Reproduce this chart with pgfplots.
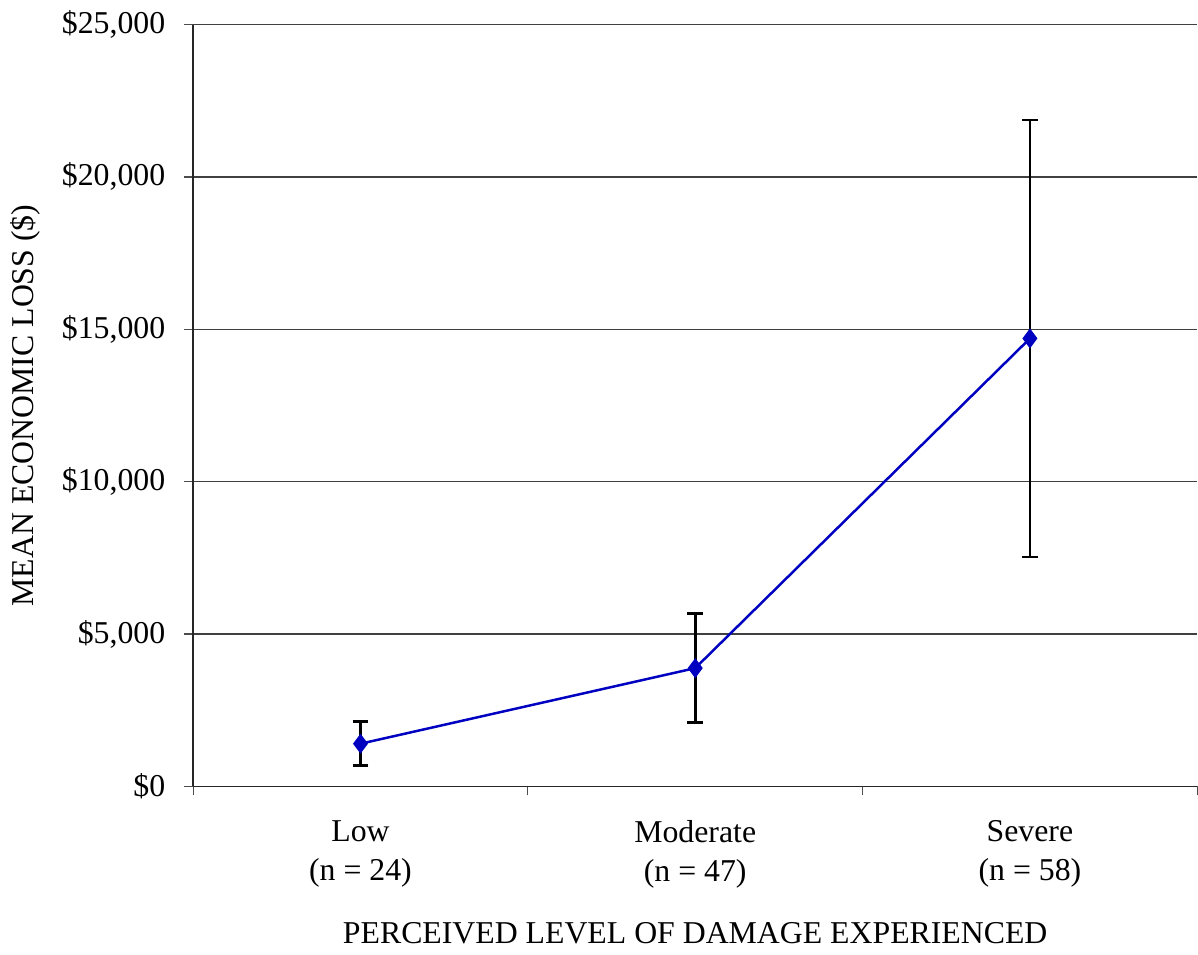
\documentclass[border=0pt]{standalone}
\usepackage{pgfplots}
\pgfplotsset{compat=1.18}
\usepackage{fontspec}
\setmainfont{Liberation Serif}
\definecolor{lineblue}{RGB}{0,0,192}
\begin{document}
\fontsize{16}{20}\selectfont
\begin{tikzpicture}
\begin{axis}[
  width=505.5pt, height=383.5pt, scale only axis,
  xmin=0.5, xmax=3.5, ymin=0, ymax=25000,
  scaled y ticks=false,
  axis x line*=bottom, axis y line*=left,
  axis line style={black!85, line width=0.7pt},
  ytick={0,5000,10000,15000,20000,25000},
  yticklabels={{\$0},{\$5,000},{\$10,000},{\$15,000},{\$20,000},{\$25,000}},
  xtick={1,2,3},
  xticklabels={{Low\\(n = 24)},{Moderate\\(n = 47)},{Severe\\(n = 58)}},
  xticklabel style={align=center, font=\fontsize{16}{20}\selectfont, yshift=-7pt},
  yticklabel style={font=\fontsize{16}{20}\selectfont, xshift=-4pt},
  minor xtick={0.5,1.5,2.5,3.5},
  major x tick style={draw=none},
  minor tick length=4.5pt,
  major tick length=4.5pt,
  tick align=outside,
  tick style={black!70, line width=0.6pt},
  ymajorgrids,
  grid style={black!75, line width=0.6pt},
  xlabel={PERCEIVED LEVEL OF DAMAGE EXPERIENCED},
  xlabel style={yshift=-6pt},
  ylabel={MEAN ECONOMIC LOSS (\$)},
  label style={font=\fontsize{16}{20}\selectfont},
  clip=false,
]
\addplot[color=lineblue, line width=1.25pt, mark=diamond*, mark size=4pt,
  mark options={fill=lineblue, draw=lineblue},
  error bars/.cd, y dir=both, y explicit,
  error bar style={black, line width=1.3pt},
  error mark options={rotate=90, mark size=4pt, line width=1.3pt, black}]
coordinates {
  (1,1400) +- (0,720)
  (2,3880) +- (0,1790)
  (3,14700) +- (0,7170)
};
\end{axis}
\end{tikzpicture}
\end{document}
